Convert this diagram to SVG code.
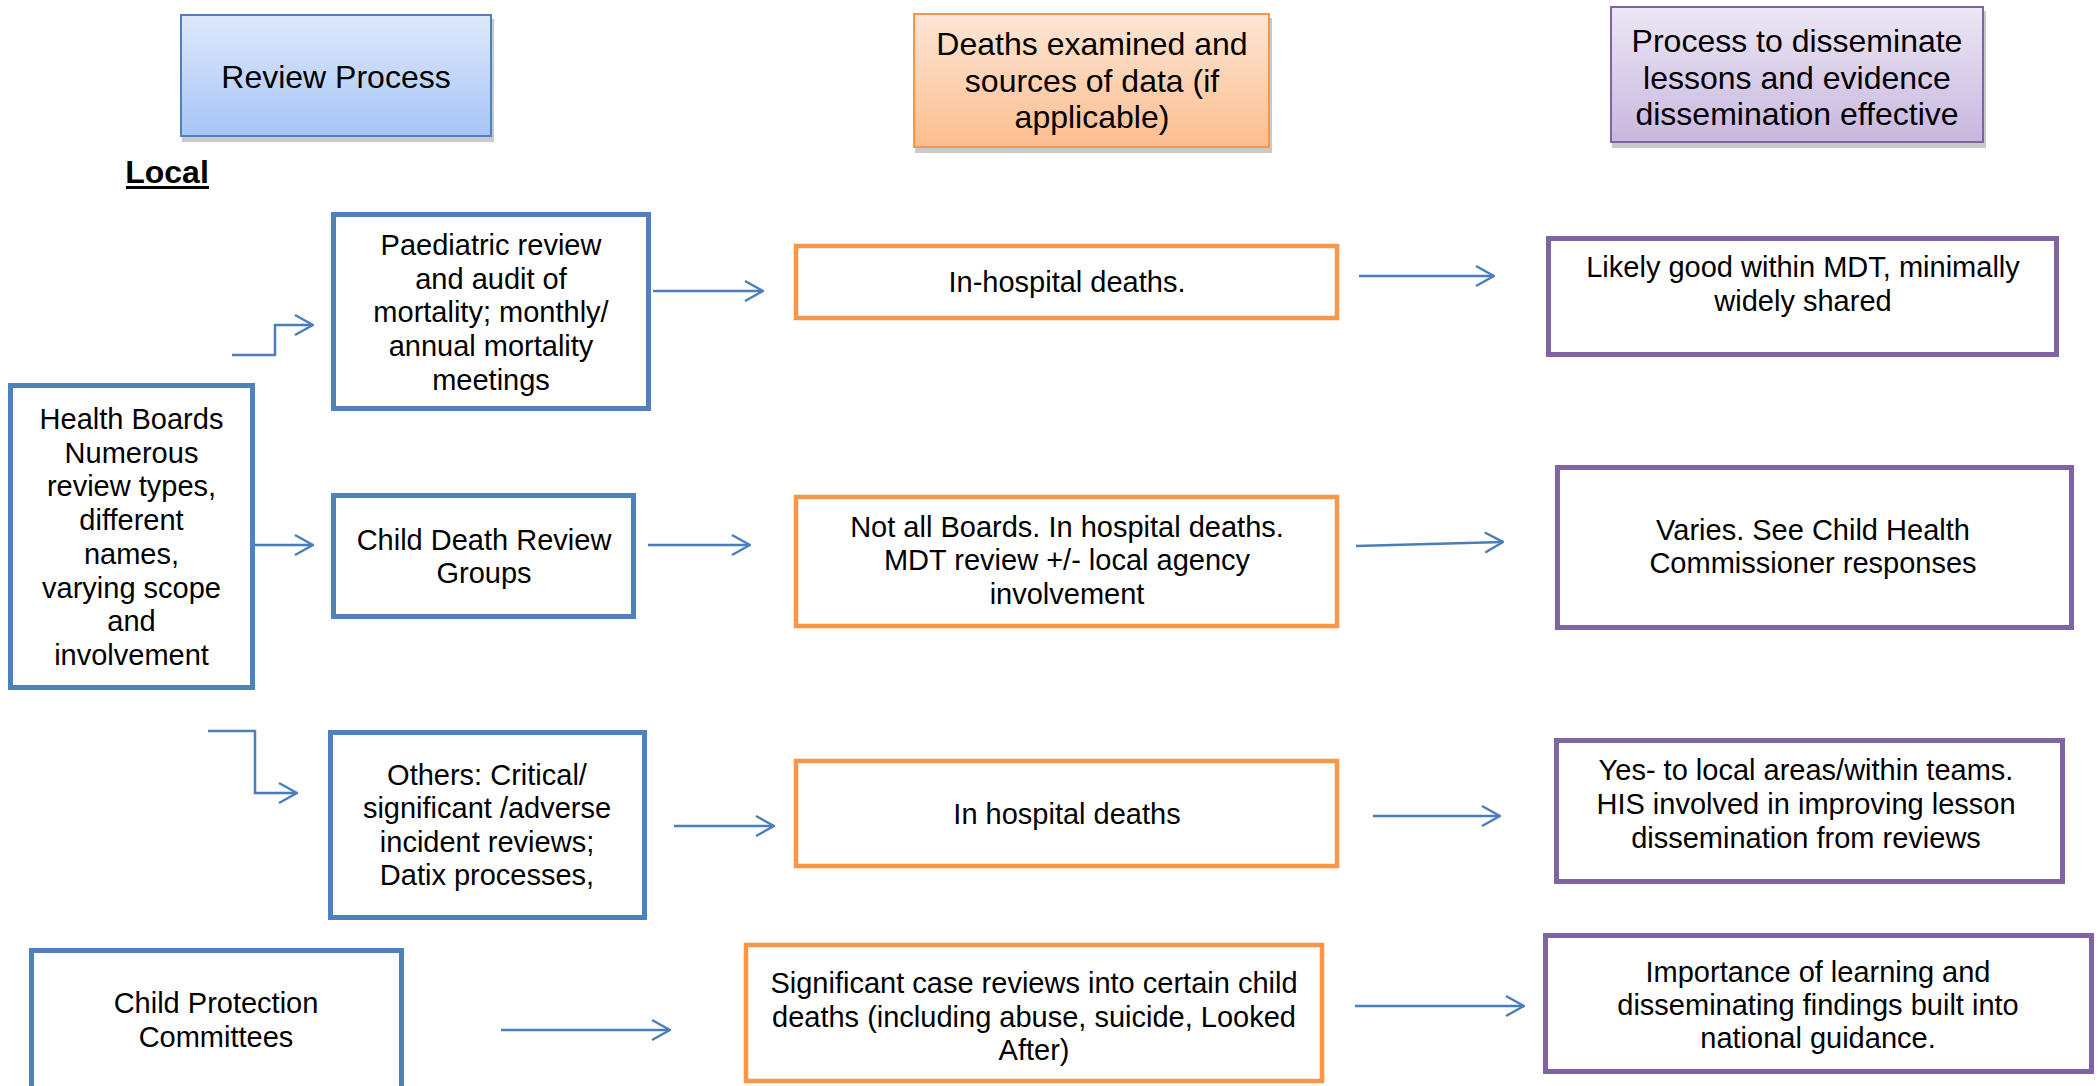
<svg xmlns="http://www.w3.org/2000/svg" width="2100" height="1086" viewBox="0 0 2100 1086">
<style>
text{font-family:"Liberation Sans",Arial,sans-serif;fill:#000;text-anchor:middle}
.t{font-size:29px}
.h{font-size:32px}
.blue{fill:#fff;stroke:#4f81bd;stroke-width:5}
.orange{fill:#fff;stroke:#f79646;stroke-width:4.5}
.purple{fill:#fff;stroke:#8064a2;stroke-width:5}
.shadow{fill:#c9c9c9}
.conn{fill:none;stroke:#4a7ebb;stroke-width:2.5;marker-end:url(#arr)}
</style>
<defs>
<linearGradient id="gBlue" x1="0" y1="0" x2="0" y2="1"><stop offset="0" stop-color="#dfe9fb"/><stop offset="1" stop-color="#a6c5f6"/></linearGradient>
<linearGradient id="gOrange" x1="0" y1="0" x2="0" y2="1"><stop offset="0" stop-color="#fde6d6"/><stop offset="1" stop-color="#fbbd8e"/></linearGradient>
<linearGradient id="gPurple" x1="0" y1="0" x2="0" y2="1"><stop offset="0" stop-color="#ede7f5"/><stop offset="1" stop-color="#c7b7df"/></linearGradient>
<marker id="arr" viewBox="0 0 20 24" refX="19" refY="12" markerWidth="20" markerHeight="24" markerUnits="userSpaceOnUse" orient="auto">
<path d="M1,2 L19,12 L1,22" fill="none" stroke="#4a7ebb" stroke-width="2.5"/>
</marker>
</defs>
<rect width="2100" height="1086" fill="#fff"/>

<g id="hdr-review">
<rect class="shadow" x="182" y="19" width="312" height="123"/>
<rect x="181" y="15" width="310" height="121" fill="url(#gBlue)" stroke="#4f81bd" stroke-width="2"/>
<text class="h" x="336" y="88">Review Process</text>
</g>
<g id="hdr-deaths">
<rect class="shadow" x="915" y="18" width="357" height="135"/>
<rect x="914" y="14" width="355" height="133" fill="url(#gOrange)" stroke="#f79646" stroke-width="2"/>
<text class="h" x="1092" y="55">Deaths examined and</text>
<text class="h" x="1092" y="92">sources of data (if</text>
<text class="h" x="1092" y="128">applicable)</text>
</g>
<g id="hdr-process">
<rect class="shadow" x="1612" y="11" width="374" height="137"/>
<rect x="1611" y="7" width="372" height="135" fill="url(#gPurple)" stroke="#8064a2" stroke-width="2"/>
<text class="h" x="1797" y="52">Process to disseminate</text>
<text class="h" x="1797" y="88.5">lessons and evidence</text>
<text class="h" x="1797" y="125">dissemination effective</text>
</g>

<g id="local-label">
<text x="167" y="183" style="font-size:32px;font-weight:bold">Local</text>
<rect x="126" y="186" width="83" height="3" fill="#000"/>
</g>

<g id="health-boards">
<rect class="blue" x="10.5" y="385.5" width="242" height="302"/>
<text class="t" x="131.5" y="429">Health Boards</text>
<text class="t" x="131.5" y="463">Numerous</text>
<text class="t" x="131.5" y="496">review types,</text>
<text class="t" x="131.5" y="530">different</text>
<text class="t" x="131.5" y="564">names,</text>
<text class="t" x="131.5" y="598">varying scope</text>
<text class="t" x="131.5" y="631">and</text>
<text class="t" x="131.5" y="665">involvement</text>
</g>
<g id="paediatric">
<rect class="blue" x="333.5" y="214.5" width="315" height="194"/>
<text class="t" x="491" y="255">Paediatric review</text>
<text class="t" x="491" y="289">and audit of</text>
<text class="t" x="491" y="322">mortality; monthly/</text>
<text class="t" x="491" y="356">annual mortality</text>
<text class="t" x="491" y="390">meetings</text>
</g>
<g id="cdr-groups">
<rect class="blue" x="333.5" y="495.5" width="300" height="121"/>
<text class="t" x="484" y="550">Child Death Review</text>
<text class="t" x="484" y="583">Groups</text>
</g>
<g id="others">
<rect class="blue" x="330.5" y="732.5" width="314" height="185"/>
<text class="t" x="487" y="785">Others: Critical/</text>
<text class="t" x="487" y="818">significant /adverse</text>
<text class="t" x="487" y="852">incident reviews;</text>
<text class="t" x="487" y="885">Datix processes,</text>
</g>
<g id="cpc">
<rect class="blue" x="31.5" y="950.5" width="370" height="160"/>
<text class="t" x="216" y="1013">Child Protection</text>
<text class="t" x="216" y="1047">Committees</text>
</g>

<g id="in-hospital-1">
<rect class="orange" x="796" y="246" width="541" height="72"/>
<text class="t" x="1067" y="292">In-hospital deaths.</text>
</g>
<g id="not-all-boards">
<rect class="orange" x="796" y="497" width="541" height="129"/>
<text class="t" x="1067" y="537">Not all Boards. In hospital deaths.</text>
<text class="t" x="1067" y="570">MDT review +/- local agency</text>
<text class="t" x="1067" y="604">involvement</text>
</g>
<g id="in-hospital-2">
<rect class="orange" x="796" y="761" width="541" height="105"/>
<text class="t" x="1067" y="824">In hospital deaths</text>
</g>
<g id="significant-case">
<rect class="orange" x="746" y="945" width="576" height="136"/>
<text class="t" x="1034" y="993">Significant case reviews into certain child</text>
<text class="t" x="1034" y="1027">deaths (including abuse, suicide, Looked</text>
<text class="t" x="1034" y="1060">After)</text>
</g>

<g id="likely-good">
<rect class="purple" x="1548.5" y="238.5" width="508" height="116"/>
<text class="t" x="1803" y="277">Likely good within MDT, minimally</text>
<text class="t" x="1803" y="311">widely shared</text>
</g>
<g id="varies">
<rect class="purple" x="1557.5" y="467.5" width="514" height="160"/>
<text class="t" x="1813" y="540">Varies. See Child Health</text>
<text class="t" x="1813" y="573">Commissioner responses</text>
</g>
<g id="yes-local">
<rect class="purple" x="1556.5" y="740.5" width="506" height="141"/>
<text class="t" x="1806" y="780">Yes- to local areas/within teams.</text>
<text class="t" x="1806" y="814">HIS involved in improving lesson</text>
<text class="t" x="1806" y="848">dissemination from reviews</text>
</g>
<g id="importance">
<rect class="purple" x="1545.5" y="935.5" width="546" height="136"/>
<text class="t" x="1818" y="982">Importance of learning and</text>
<text class="t" x="1818" y="1015">disseminating findings built into</text>
<text class="t" x="1818" y="1048">national guidance.</text>
</g>

<g id="connectors">
<path class="conn" d="M232,355 H275 V325 H313"/>
<path class="conn" d="M255,545 H313"/>
<path class="conn" d="M208,731 H255 V793 H297"/>
<path class="conn" d="M653,291 H763"/>
<path class="conn" d="M648,545 H750"/>
<path class="conn" d="M674,826 H774"/>
<path class="conn" d="M501,1030 H670"/>
<path class="conn" d="M1359,276 H1494"/>
<path class="conn" d="M1356,546 L1503,542"/>
<path class="conn" d="M1373,816 H1500"/>
<path class="conn" d="M1355,1006 H1524"/>
</g>
</svg>
